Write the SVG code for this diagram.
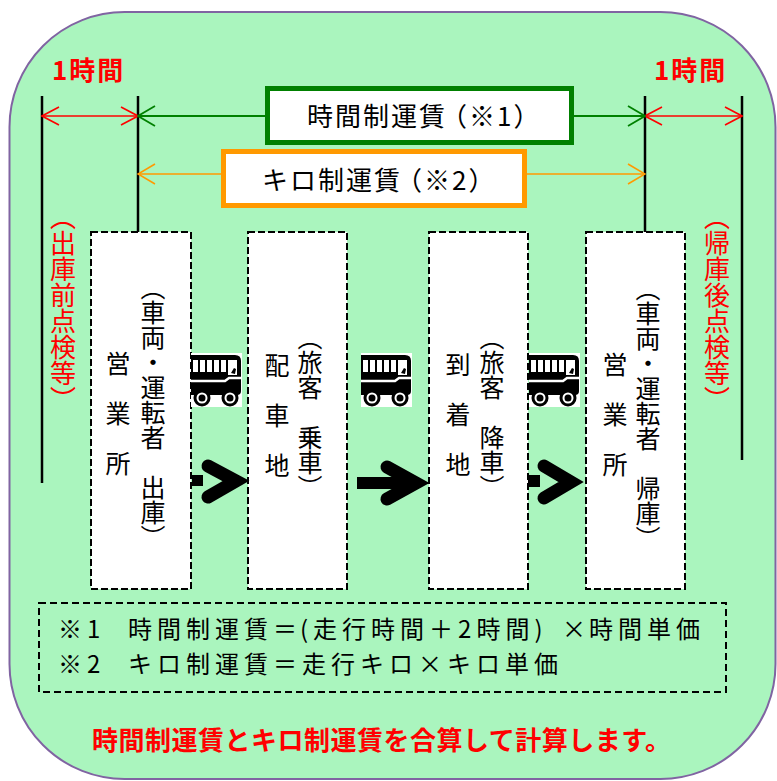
<svg xmlns="http://www.w3.org/2000/svg" width="777" height="781" viewBox="0 0 777 781">
<style>
.jp{font-family:"Noto Sans CJK JP","Noto Sans CJK SC",sans-serif;}
.vt{font-family:"Noto Sans CJK JP","Noto Sans CJK SC",sans-serif;font-size:25px;writing-mode:vertical-rl;fill:#000;}
.vr{font-family:"Noto Sans CJK JP","Noto Sans CJK SC",sans-serif;font-size:26px;writing-mode:vertical-rl;fill:#ff0000;}
.box{fill:#fff;stroke:#000;stroke-width:2;stroke-dasharray:7 3;}
.vl{stroke:#000;stroke-width:2.5;}
.big{fill:none;stroke:#000;stroke-width:13;stroke-linecap:round;stroke-linejoin:miter;}
.hd{font-family:"Noto Sans CJK JP","Noto Sans CJK SC",sans-serif;font-weight:bold;font-size:26px;fill:#ff0000;}
.fm{font-family:"Noto Sans CJK JP","Noto Sans CJK SC",sans-serif;font-size:24px;fill:#000;}
</style>
<defs>
<marker id="arR" viewBox="0 0 19 22" refX="18" refY="11" markerWidth="19" markerHeight="22" markerUnits="userSpaceOnUse" orient="auto-start-reverse"><path d="M1,2 L18,11 L1,20" fill="none" stroke="#ff0000" stroke-width="1.6"/></marker>
<marker id="arG" viewBox="0 0 19 22" refX="18" refY="11" markerWidth="19" markerHeight="22" markerUnits="userSpaceOnUse" orient="auto-start-reverse"><path d="M1,1 L18,11 L1,21" fill="none" stroke="#008000" stroke-width="1.8"/></marker>
<marker id="arO" viewBox="0 0 19 22" refX="18" refY="11" markerWidth="19" markerHeight="22" markerUnits="userSpaceOnUse" orient="auto-start-reverse"><path d="M1,1 L18,11 L1,21" fill="none" stroke="#ff9900" stroke-width="1.6"/></marker>
<g id="bus">
<rect x="0" y="0" width="51" height="54" fill="#fff"/>
<path d="M0,2 H44 Q50,2 50,8 V38 Q50,42 46,42 H0 Z" fill="#000"/>
<rect x="2" y="7" width="5" height="12" fill="#fff"/>
<rect x="9" y="7" width="5" height="12" fill="#fff"/>
<rect x="16" y="7" width="5" height="12" fill="#fff"/>
<rect x="23" y="7" width="5" height="12" fill="#fff"/>
<rect x="30" y="7" width="5" height="12" fill="#fff"/>
<path d="M37,7 H46 V22 H37 Z" fill="#fff"/>
<path d="M40,20 L43,15 L45,16 L44,21 Z" fill="#000"/>
<polyline points="0,28 34,28 38,25 50,25" fill="none" stroke="#fff" stroke-width="2.5"/>
<circle cx="11" cy="45" r="8.5" fill="#000"/>
<circle cx="39" cy="45" r="8.5" fill="#000"/>
<circle cx="11" cy="45" r="4.5" fill="none" stroke="#fff" stroke-width="2"/>
<circle cx="39" cy="45" r="4.5" fill="none" stroke="#fff" stroke-width="2"/>
</g>
</defs>

<rect id="frame" x="9.5" y="12" width="766" height="767" rx="115" fill="#aaf5be" stroke="#8064a2" stroke-width="2"/>

<g id="connectors">
<line class="vl" x1="42" y1="96" x2="42" y2="483"/>
<line class="vl" x1="138" y1="96" x2="138" y2="232"/>
<line class="vl" x1="645" y1="96" x2="645" y2="232"/>
<line class="vl" x1="742" y1="96" x2="742" y2="460"/>
<line x1="42" y1="116" x2="138" y2="116" stroke="#ff0000" stroke-width="1.6" marker-start="url(#arR)" marker-end="url(#arR)"/>
<line x1="645" y1="116" x2="742" y2="116" stroke="#ff0000" stroke-width="1.6" marker-start="url(#arR)" marker-end="url(#arR)"/>
<line x1="138" y1="116" x2="645" y2="116" stroke="#008000" stroke-width="2" marker-start="url(#arG)" marker-end="url(#arG)"/>
<line x1="138" y1="174" x2="645" y2="174" stroke="#ff9900" stroke-width="1.6" marker-start="url(#arO)" marker-end="url(#arO)"/>
</g>

<text class="hd" x="52" y="80" letter-spacing="2">1時間</text>
<text class="hd" x="654" y="80" letter-spacing="2">1時間</text>

<g id="time-fare">
<rect x="267.5" y="88.5" width="304" height="54" fill="#fff" stroke="#008000" stroke-width="5"/>
<text class="jp" x="307" y="126" font-size="26" letter-spacing="2">時間制運賃<tspan dx="-6">（※1）</tspan></text>
</g>
<g id="km-fare">
<rect x="223.5" y="151.5" width="301" height="54" fill="#fff" stroke="#ff9900" stroke-width="5"/>
<text class="jp" x="262" y="190" font-size="26" letter-spacing="2">キロ制運賃<tspan dx="-6">（※2）</tspan></text>
</g>

<text class="vr" x="63" y="204">（出庫前点検等）</text>
<text class="vr" x="717" y="204">（帰庫後点検等）</text>

<g id="office-out">
<rect class="box" x="91" y="232" width="100" height="357"/>
<text class="vt" x="153" y="275">（車両・運転者　出庫）</text>
<text class="vt" x="118" y="351">営　業　所</text>
</g>
<g id="pickup">
<rect class="box" x="248" y="232" width="99" height="357"/>
<text class="vt" x="310" y="325">（旅客　乗車）</text>
<text class="vt" x="277" y="353">配　車　地</text>
</g>
<g id="arrival">
<rect class="box" x="429" y="232" width="99" height="357"/>
<text class="vt" x="492" y="325">（旅客　降車）</text>
<text class="vt" x="458" y="352">到　着　地</text>
</g>
<g id="office-in">
<rect class="box" x="586" y="232" width="99" height="357"/>
<text class="vt" x="648" y="276">（車両・運転者　帰庫）</text>
<text class="vt" x="615" y="352">営　業　所</text>
</g>

<g id="flow">
<use href="#bus" x="191" y="353"/>
<use href="#bus" x="361" y="353"/>
<use href="#bus" x="529" y="353"/>
<rect x="192" y="475" width="11" height="11" fill="#000"/>
<polyline class="big" points="208,466 236,481 208,497"/>
<line x1="357" y1="483" x2="418" y2="483" stroke="#000" stroke-width="12"/>
<polyline class="big" points="387,467 416,483 387,499"/>
<rect x="528" y="475" width="12" height="12" fill="#000"/>
<polyline class="big" points="544,466 571,482 544,498"/>
</g>

<g id="formula">
<rect x="39" y="603" width="687" height="89" fill="none" stroke="#000" stroke-width="2" stroke-dasharray="7 4"/>
<text class="fm" y="638" letter-spacing="5"><tspan x="58">※1</tspan><tspan x="128">時間制運賃＝</tspan><tspan x="300">(走行時間＋2時間)</tspan><tspan x="562">×</tspan><tspan x="589">時間単価</tspan></text>
<text class="fm" y="673" letter-spacing="5"><tspan x="58">※2</tspan><tspan x="128">キロ制運賃＝走行キロ×キロ単価</tspan></text>
</g>

<text class="hd" x="92" y="750" letter-spacing="0.5">時間制運賃とキロ制運賃を合算して計算します。</text>
</svg>
